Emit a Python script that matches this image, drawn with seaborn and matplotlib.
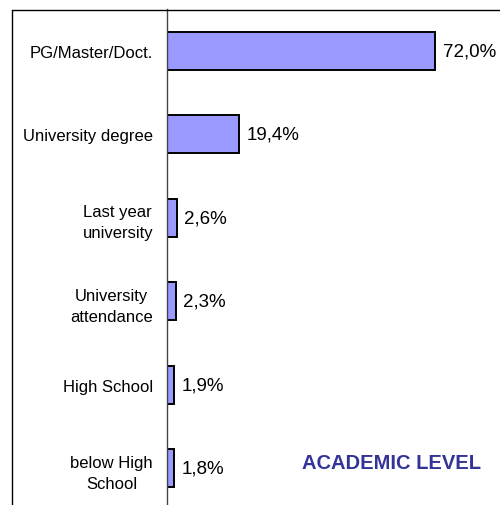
import matplotlib
matplotlib.use("Agg")
import matplotlib.pyplot as plt
import seaborn as sns
import pandas as pd
from matplotlib.lines import Line2D

categories = ["PG/Master/Doct.", "University degree", "Last year\nuniversity",
              "University\nattendance", "High School", "below High\nSchool"]
values = [72.0, 19.4, 2.6, 2.3, 1.9, 1.8]
value_labels = ["72,0%", "19,4%", "2,6%", "2,3%", "1,9%", "1,8%"]
title = "ACADEMIC LEVEL"

sns.set_style("white")
plt.rcParams['font.family'] = ['Liberation Sans', 'DejaVu Sans']

df = pd.DataFrame({"cat": categories, "val": values})

fig = plt.figure(figsize=(5.0, 5.06), dpi=100)
ax = fig.add_axes([167/500, 1 - 511/506, 335/500, 501/506])

sns.barplot(data=df, y="cat", x="val", orient="h", color="#9999FF",
            edgecolor="black", linewidth=1.4, width=0.45, saturation=1, ax=ax)

ax.set_xlim(0, 90)
ax.set_ylim(5.5, -0.5)
ax.set_xlabel("")
ax.set_ylabel("")
ax.set_xticks([])
for s in ["top", "right", "bottom"]:
    ax.spines[s].set_visible(False)
ax.spines["left"].set_color("#444444")
ax.spines["left"].set_linewidth(1.0)

ax.set_yticks(range(len(categories)))
ax.set_yticklabels(categories, fontsize=12, ha="right", multialignment="center",
                   color="black", linespacing=1.5)
ax.tick_params(axis="y", which="major", length=0, pad=10)
ax.set_yticks([i + 0.5 for i in range(-1, len(categories))], minor=True)
ax.tick_params(axis="y", which="minor", length=4, width=1, color="#444444")

for i, (v, lab) in enumerate(zip(values, value_labels)):
    ax.text(v + 2.1, i, lab, va="center", ha="left", fontsize=13.5, color="black")

fig.text(392/500, 1 - 464/506, title, ha="center", va="center",
         fontsize=14.5, fontweight="bold", color="#333399")

fig.add_artist(Line2D([12/500, 1.01], [1 - 10.5/506, 1 - 10.5/506],
                      transform=fig.transFigure, color="black", lw=1))
fig.add_artist(Line2D([12/500, 12/500], [1 - 10.5/506, -0.01],
                      transform=fig.transFigure, color="black", lw=1))

fig.savefig("out.png", dpi=100)
